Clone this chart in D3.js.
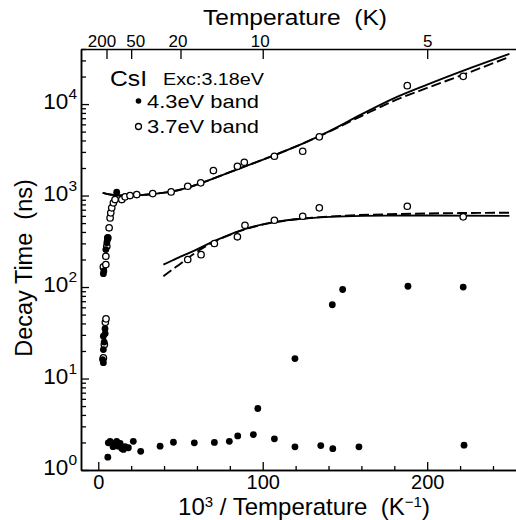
<!DOCTYPE html>
<html>
<head>
<meta charset="utf-8">
<script src="https://cdn.jsdelivr.net/npm/d3@7"></script>
<style>
  body { margin: 0; background: #fff; }
  svg { display: block; font-family: "Liberation Sans", Arial, Helvetica, sans-serif; }
</style>
</head>
<body>
<div id="chart"></div>
<script>
// CsI decay times vs inverse temperature (Exc: 3.18 eV)

// 4.3 eV band (filled dots): [10^3/T, decay time ns]
const band43 = [
  [3.1, 14.9], [2.6, 16.1], [3.1, 20.7], [3.6, 25], [3.1, 29], [4.2, 31], [4.1, 35],
  [3.1, 140], [3.4, 150], [4.6, 257], [5.2, 304], [5.5, 325], [5.8, 345], [11.2, 1087],
  [5.8, 1.38], [6.1, 1.98], [7.2, 2.05], [8.4, 1.95], [9.0, 1.8], [10.0, 1.9], [11.2, 2.06],
  [12.2, 1.82], [13.3, 1.95], [14.3, 1.72], [15.3, 1.68], [16.3, 1.8], [18.3, 1.75],
  [21.3, 2.06], [25.8, 1.6], [37.6, 1.82], [45.7, 2.01], [58.4, 1.98], [70.6, 2.0],
  [79.7, 2.06], [84.8, 2.36], [94.3, 2.44], [97.0, 4.7], [107.1, 2.19], [119.6, 1.79],
  [135.3, 1.85], [142.6, 1.71], [158.5, 1.79], [222.4, 1.87],
  [119.6, 16.5], [142.3, 64], [148.6, 94], [188.3, 102], [221.9, 100]
];

// 3.7 eV band (open circles)
const band37 = [
  [3.1, 16.8], [3.7, 23.5], [4.3, 41.2], [4.7, 44.9],
  [3.1, 166], [4.6, 176], [4.6, 217], [5.2, 279], [5.8, 345], [6.6, 444], [7.2, 570],
  [7.6, 647], [8.2, 734], [9.2, 832], [10.2, 904], [14.3, 904], [16.3, 968], [19.3, 1000],
  [23.4, 1026], [33.1, 1050], [44.3, 1097], [54.4, 1264], [62.3, 1377], [70.0, 1876],
  [84.6, 2089], [88.8, 2312], [107.1, 2690], [124.3, 3050], [134.4, 4385],
  [187.9, 15900], [221.9, 20100],
  [54.4, 200], [62.5, 226], [70.6, 299], [84.6, 354], [89.2, 473], [107.1, 537],
  [124.3, 594], [134.4, 734], [187.9, 764], [221.9, 585]
];

// fitted curves
const fitUpperSolid = [
  [2.7, 1070], [8, 1020], [15, 1000], [25, 1010], [35, 1050], [45, 1110], [55, 1230],
  [65, 1420], [75, 1660], [85, 1950], [95, 2280], [110, 2900], [125, 3750], [140, 5000],
  [160, 7700], [180, 11600], [200, 16300], [222, 23200], [250, 35400]
];
const fitUpperDashed = [
  [2.7, 1070], [8, 1020], [15, 1000], [25, 1010], [35, 1050], [45, 1110], [55, 1230],
  [65, 1420], [75, 1660], [85, 1950], [95, 2280], [110, 2900], [125, 3750], [140, 4950],
  [160, 7400], [180, 10900], [200, 15000], [222, 21000], [250, 32800]
];
const fitLowerSolid = [
  [39.6, 176], [45, 195], [50, 215], [55, 235], [60, 258], [70, 315], [80, 375],
  [90, 435], [100, 485], [110, 522], [120, 550], [135, 578], [150, 593], [175, 603],
  [200, 605], [250, 600]
];
const fitLowerDashed = [
  [39.6, 131], [45, 155], [50, 180], [55, 210], [60, 243], [70, 310], [80, 372],
  [90, 432], [100, 482], [115, 535], [130, 572], [150, 603], [175, 624], [200, 637],
  [225, 645], [250, 650]
];

const xTicks = [0, 100, 200];
const xMinorTicks = [20, 40, 60, 80, 120, 140, 160, 180, 220, 240];
const yDecades = [0, 1, 2, 3, 4];
const tempTicks = [200, 50, 20, 10, 5];
const legendItems = ['4.3eV band', '3.7eV band'];

const width = 516;
const height = 520;
const margin = { top: 49, right: 0, bottom: 50, left: 81 };

const svg = d3.select('#chart')
  .append('svg')
  .attr('width', width)
  .attr('height', height);

const x = d3.scaleLinear()
  .domain([-10.5, 254])
  .range([margin.left, width - margin.right]);

const y = d3.scaleLog()
  .domain([1, 40000])
  .range([height - margin.bottom, margin.top]);

function styleAxis(g) {
  g.select('.domain').attr('stroke-width', 1.5);
  g.selectAll('.tick line').attr('stroke-width', 1.3);
  g.selectAll('.tick text').attr('fill', '#000');
}

// bottom axis (ticks point inward)
svg.append('g')
  .attr('transform', `translate(0,${y(1)})`)
  .call(d3.axisBottom(x).tickValues(xMinorTicks).tickSize(-4).tickSizeOuter(0).tickFormat(''))
  .call(styleAxis);

svg.append('g')
  .attr('transform', `translate(0,${y(1)})`)
  .call(d3.axisBottom(x).tickValues(xTicks).tickSize(-8).tickSizeOuter(0).tickPadding(5))
  .call(styleAxis)
  .selectAll('.tick text')
  .attr('font-size', 20);

// top axis: temperature in K
svg.append('g')
  .attr('transform', `translate(0,${margin.top})`)
  .call(d3.axisTop(x).tickValues(tempTicks.map(t => 1000 / t)).tickSize(-10).tickSizeOuter(0)
    .tickPadding(2).tickFormat(d => Math.round(1000 / d)))
  .call(styleAxis)
  .selectAll('.tick text')
  .attr('font-size', 17)
  .attr('dx', d => ({ 5: -5, 20: 4, 50: -3, 100: -3 })[Math.round(d)] || 0);

// left axis, log scale
const yMinor = [];
yDecades.forEach(p => {
  for (let k = 2; k <= 9; k++) {
    const v = k * Math.pow(10, p);
    if (v <= 40000) yMinor.push(v);
  }
});

svg.append('g')
  .attr('transform', `translate(${margin.left},0)`)
  .call(d3.axisLeft(y).tickValues(yMinor).tickSize(-5).tickSizeOuter(0).tickFormat(''))
  .call(styleAxis);

const yAxis = svg.append('g')
  .attr('transform', `translate(${margin.left},0)`)
  .call(d3.axisLeft(y).tickValues(yDecades.map(p => Math.pow(10, p))).tickSize(-8)
    .tickSizeOuter(0).tickFormat(''))
  .call(styleAxis);

yAxis.selectAll('.tick').each(function(d) {
  const t = d3.select(this).append('text')
    .attr('x', -4)
    .attr('y', 4.5)
    .attr('text-anchor', 'end')
    .attr('fill', '#000');
  t.append('tspan').attr('font-size', 22.5).text('10');
  t.append('tspan').attr('font-size', 15.5).attr('dy', -10).text(Math.round(Math.log10(d)));
});

// fitted curves
const line = d3.line()
  .x(d => x(d[0]))
  .y(d => y(d[1]))
  .curve(d3.curveMonotoneX);

[[fitUpperDashed, '10,4'], [fitLowerDashed, '10,4'], [fitUpperSolid, null], [fitLowerSolid, null]]
  .forEach(([pts, dash]) => {
    svg.append('path')
      .datum(pts)
      .attr('d', line)
      .attr('fill', 'none')
      .attr('stroke', '#000')
      .attr('stroke-width', 1.9)
      .attr('stroke-dasharray', dash);
  });

// data points
svg.append('g')
  .selectAll('circle')
  .data(band37)
  .enter()
  .append('circle')
  .attr('cx', d => x(d[0]))
  .attr('cy', d => y(d[1]))
  .attr('r', 3.2)
  .attr('fill', '#fff')
  .attr('stroke', '#000')
  .attr('stroke-width', 1.3);

svg.append('g')
  .selectAll('circle')
  .data(band43)
  .enter()
  .append('circle')
  .attr('cx', d => x(d[0]))
  .attr('cy', d => y(d[1]))
  .attr('r', 3.4)
  .attr('fill', '#000');

// legend
const legend = svg.append('g').attr('class', 'legend');

legend.append('text')
  .attr('x', 110)
  .attr('y', 86)
  .attr('font-size', 22)
  .attr('textLength', 37)
  .attr('lengthAdjust', 'spacingAndGlyphs')
  .text('CsI');

legend.append('text')
  .attr('x', 163)
  .attr('y', 85)
  .attr('font-size', 17)
  .attr('textLength', 101)
  .attr('lengthAdjust', 'spacingAndGlyphs')
  .text('Exc:3.18eV');

legendItems.forEach((label, i) => {
  const cy = 101 + i * 25.5;
  legend.append('circle')
    .attr('cx', 138.5)
    .attr('cy', cy)
    .attr('r', i === 0 ? 2.8 : 3)
    .attr('fill', i === 0 ? '#000' : '#fff')
    .attr('stroke', '#000')
    .attr('stroke-width', i === 0 ? 0 : 1.3);
  legend.append('text')
    .attr('x', 147)
    .attr('y', cy + 6.5)
    .attr('font-size', 19)
    .attr('textLength', 112)
    .attr('lengthAdjust', 'spacingAndGlyphs')
    .text(label);
});

// axis titles
svg.append('text')
  .attr('x', 295)
  .attr('y', 25)
  .attr('text-anchor', 'middle')
  .attr('font-size', 21.5)
  .attr('textLength', 184)
  .attr('lengthAdjust', 'spacingAndGlyphs')
  .style('white-space', 'pre')
  .text('Temperature  (K)');

svg.append('text')
  .attr('transform', 'translate(32,268) rotate(-90)')
  .attr('text-anchor', 'middle')
  .attr('font-size', 23.5)
  .style('white-space', 'pre')
  .text('Decay Time  (ns)');

const xTitle = svg.append('text')
  .attr('x', 304)
  .attr('y', 515)
  .attr('text-anchor', 'middle')
  .attr('font-size', 24)
  .style('white-space', 'pre');
xTitle.append('tspan').text('10');
xTitle.append('tspan').attr('font-size', 15).attr('dy', -8).text('3');
xTitle.append('tspan').attr('dy', 8).text(' / Temperature  (K');
xTitle.append('tspan').attr('font-size', 15).attr('dy', -8).text('\u22121');
xTitle.append('tspan').attr('dy', 8).text(')');
</script>
</body>
</html>
